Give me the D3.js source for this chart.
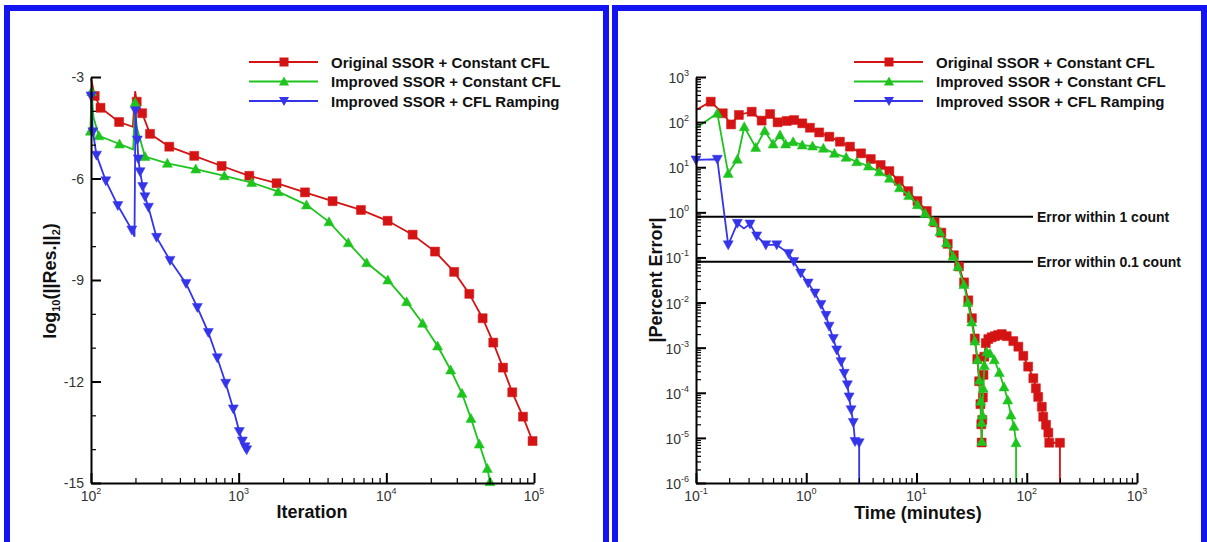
<!DOCTYPE html>
<html>
<head>
<meta charset="utf-8">
<script src="https://cdn.jsdelivr.net/npm/d3@7"></script>
<style>
  body { margin: 0; background: #fff; }
  svg { display: block; font-family: "Liberation Sans", Arial, Helvetica, sans-serif; }
</style>
</head>
<body>
<svg id="fig" width="1207" height="542"></svg>
<script>
// ---------- data ----------
const seriesNames = [
  "Original SSOR + Constant CFL",
  "Improved SSOR + Constant CFL",
  "Improved SSOR + CFL Ramping"
];
const seriesColors = ["#d41414", "#1ec41e", "#3434ea"];
const seriesMarkers = ["square", "triangle", "triangleDown"];

// Residual history: [iteration, log10 residual] (third entry 0 = no symbol)
const residualOriginal = [[100,-3.04,0],[106,-3.56],[116,-3.91],[155,-4.33],[192,-4.47,0],[199,-3.42,0],[204,-3.73],[222,-4.07],[251,-4.68],[339,-5.06],[500,-5.33],[767,-5.63],[1180,-5.92],[1806,-6.14],[2812,-6.41],[4326,-6.67],[6730,-6.93],[10200,-7.25],[15070,-7.66],[21370,-8.16],[28800,-8.76],[36470,-9.41],[44900,-10.13],[52980,-10.85],[61640,-11.59],[71240,-12.32],[84200,-13.04],[97800,-13.76]];
const residualImproved = [[99,-4.6],[101,-3.43],[104,-4.2,0],[113,-4.74],[156,-4.98],[193,-5.14,0],[199,-3.75],[203,-4.45,0],[232,-5.35],[329,-5.55],[512,-5.72],[800,-5.92],[1225,-6.12],[1853,-6.39],[2880,-6.78],[4090,-7.28],[5530,-7.9],[7360,-8.49],[10230,-9.0],[13720,-9.64],[17600,-10.28],[22250,-10.95],[27270,-11.66],[32530,-12.35],[37410,-13.09],[42620,-13.85],[48320,-14.57],[50350,-14.96]];
const residualRamping = [[100,-3.56],[103,-4.62],[109,-5.31],[126,-6.07],[152,-6.8],[189,-7.52],[197,-7.72,0],[200,-4.0],[206,-4.86],[209,-5.42],[215,-5.8],[224,-6.24],[232,-6.54],[245,-6.85],[278,-7.74],[343,-8.42],[440,-9.1],[525,-9.81],[623,-10.55],[716,-11.3],[817,-12.05],[920,-12.81],[1010,-13.48],[1059,-13.76],[1104,-13.93],[1133,-14.02]];

// Percent error history: [time in minutes, |percent error|] (1e-9 = error reached zero)
const errorOriginal = [[0.1,185,0],[0.136,284],[0.175,157],[0.208,89],[0.245,144],[0.32,170],[0.394,108],[0.47,151],[0.55,99],[0.665,106],[0.775,111],[0.92,94],[1.08,75],[1.31,59],[1.62,47.5],[2.02,36.8],[2.49,28.6],[3.14,20.3],[3.85,15.2],[4.73,11.2],[5.67,8.2],[6.9,5.0],[8.4,2.95],[10.2,1.78],[12.4,1.07],[14.6,0.6],[16.8,0.355],[19.2,0.2],[21.8,0.112],[24.3,0.063],[27,0.028],[29.5,0.0112],[31.8,0.0045],[33.8,0.0016],[35.6,5.6e-4],[37,1.8e-4],[38,5.6e-5],[38.7,2e-5],[39,7.9e-6],[39.5,2.5e-5],[40,7.9e-5],[40.5,2.5e-4],[41.2,6.3e-4],[42.5,1.26e-3],[44.8,1.55e-3],[48,1.7e-3],[51.5,1.8e-3],[55,1.9e-3],[59.3,2.0e-3],[65.8,1.8e-3],[75.5,1.4e-3],[83.9,1.05e-3],[93.1,6.6e-4],[103,3.8e-4],[114.7,2.1e-4],[121,1.26e-4],[127,8.1e-5],[137,4.9e-5],[141,2.95e-5],[149.6,1.95e-5],[157,1.3e-5],[160,7.8e-6],[200,7.8e-6],[200,1e-9,0]];
const errorImproved = [[0.1,73,0],[0.156,157],[0.196,7.3],[0.237,15],[0.274,79],[0.348,27.5],[0.42,64.6],[0.5,32.7],[0.578,51.8],[0.65,32.7],[0.76,36.8],[0.92,31],[1.14,29.5],[1.43,26.3],[1.8,20.3],[2.3,16.6],[2.87,13.2],[3.66,10.6],[4.6,7.9],[5.68,5.7],[7.0,3.5],[8.5,2.35],[10.2,1.48],[12.0,0.95],[14.1,0.63],[16.3,0.37],[18.7,0.21],[21.5,0.107],[23.8,0.063],[26.9,0.025],[29.2,0.01],[31.7,0.0037],[33.8,0.0014],[35.8,5.4e-4],[37.2,1.9e-4],[38.2,6.5e-5],[38.8,2.2e-5],[39.1,8.3e-6],[39.6,3.2e-5],[40.3,1.26e-4],[41.3,4e-4],[43.3,8.1e-4],[46.5,7.4e-4],[50.8,5.4e-4],[56.4,2.8e-4],[62.2,1.35e-4],[67.2,6.9e-5],[72,3.2e-5],[76.6,1.8e-5],[80,7.8e-6],[80,1e-9,0]];
const errorRamping = [[0.1,14.5],[0.156,15],[0.196,0.19],[0.237,0.57],[0.272,0.44,0],[0.309,0.55],[0.355,0.3],[0.43,0.19],[0.54,0.19],[0.69,0.123],[0.77,0.081],[0.89,0.045],[1.04,0.027],[1.2,0.0162],[1.36,0.0091],[1.51,0.0052],[1.61,0.003],[1.76,0.0016],[1.89,8.9e-4],[2.07,4.9e-4],[2.21,2.7e-4],[2.36,1.5e-4],[2.45,8.1e-5],[2.55,4.2e-5],[2.67,2.2e-5],[2.77,8.3e-6],[3.02,7.8e-6],[3.02,1e-9,0]];

// Reference error levels
const errorLevels = [0.8, 0.08];
const errorLevelLabels = ["Error within 1 count", "Error within 0.1 count"];

// Tick values
const iterMajor = [1e2, 1e3, 1e4, 1e5];
const iterMajorExp = ["2", "3", "4", "5"];
const resMajor = [-3, -6, -9, -12, -15];
const resMajorLabels = ["-3", "-6", "-9", "-12", "-15"];
const timeMajor = [1e-1, 1e0, 1e1, 1e2, 1e3];
const timeMajorExp = ["-1", "0", "1", "2", "3"];
const errMajor = [1e3, 1e2, 1e1, 1e0, 1e-1, 1e-2, 1e-3, 1e-4, 1e-5, 1e-6];
const errMajorExp = ["3", "2", "1", "0", "-1", "-2", "-3", "-4", "-5", "-6"];

// ---------- drawing ----------
const svg = d3.select("#fig");
const FRAME = "#1414f2";

// panel frames
[[7, 8, 599, 560], [615, 8, 589, 560]].forEach(([x, y, w, h]) => {
  svg.append("rect").attr("x", x).attr("y", y).attr("width", w).attr("height", h)
    .attr("fill", "#fff").attr("stroke", FRAME).attr("stroke-width", 6);
});

function logMinors(lo, hi) {
  const out = [];
  for (let e = Math.round(Math.log10(lo)); e < Math.round(Math.log10(hi)); e++) {
    for (let k = 2; k <= 9; k++) out.push(k * Math.pow(10, e));
  }
  return out;
}

function markerPath(kind) {
  if (kind === "square") return "M-4.5,-4.5H4.5V4.5H-4.5Z";
  if (kind === "triangle") return "M0,-5L5,4L-5,4Z";
  return "M0,5L5,-4L-5,-4Z";
}

function styleAxis(sel, w) {
  sel.selectAll("path.domain").attr("stroke", "#000").attr("stroke-width", 2);
  sel.selectAll(".tick line").attr("stroke", "#000").attr("stroke-width", w);
  sel.selectAll(".tick text").remove();
}

function powerLabel(g, x, y, exp, anchor) {
  const t = g.append("text").attr("x", x).attr("y", y).attr("text-anchor", anchor)
    .attr("font-size", 14).attr("fill", "#333");
  t.append("tspan").text("10");
  t.append("tspan").attr("dy", -7).attr("font-size", 9).text(exp);
  return t;
}

function drawPanel(p) {
  const g = svg.append("g");
  const [x0, x1] = p.x.range();
  const [yb, yt] = p.y.range();

  svg.append("clipPath").attr("id", p.id).append("rect")
    .attr("x", x0 - 4).attr("y", yt - 4).attr("width", x1 - x0 + 8).attr("height", yb - yt + 4);

  // reference error lines
  if (p.levels) {
    p.levels.forEach((v, i) => {
      g.append("line").attr("x1", x0).attr("x2", p.levelEnd)
        .attr("y1", p.y(v)).attr("y2", p.y(v))
        .attr("stroke", "#000").attr("stroke-width", 2);
      g.append("text").attr("x", p.levelEnd + 4).attr("y", p.y(v) + 5)
        .attr("font-size", 14).attr("font-weight", "bold").attr("fill", "#111")
        .text(p.levelLabels[i]);
    });
  }

  // series lines and symbols
  const line = d3.line().x(d => p.x(d[0])).y(d => p.y(d[1]));
  p.series.forEach((s, i) => {
    g.append("path").datum(s).attr("d", line).attr("fill", "none")
      .attr("stroke", seriesColors[i]).attr("stroke-width", 1.8)
      .attr("clip-path", `url(#${p.id})`);
    g.selectAll(null).data(s.filter(d => d.length < 3)).join("path")
      .attr("d", markerPath(seriesMarkers[i]))
      .attr("transform", d => `translate(${p.x(d[0])},${p.y(d[1])})`)
      .attr("fill", seriesColors[i]).attr("stroke", seriesColors[i]).attr("stroke-width", 0.5);
  });

  // axes: major and minor ticks point inward
  const xa = g.append("g").attr("transform", `translate(0,${yb})`)
    .call(d3.axisBottom(p.x).tickValues(p.xMajor).tickSize(-10).tickSizeOuter(0));
  styleAxis(xa, 2);
  const xm = g.append("g").attr("transform", `translate(0,${yb})`)
    .call(d3.axisBottom(p.x).tickValues(p.xMinor).tickSize(-5).tickSizeOuter(0));
  styleAxis(xm, 1.2); xm.select("path.domain").remove();

  const ya = g.append("g").attr("transform", `translate(${x0},0)`)
    .call(d3.axisLeft(p.y).tickValues(p.yMajor).tickSize(-10).tickSizeOuter(0));
  styleAxis(ya, 2);
  const ym = g.append("g").attr("transform", `translate(${x0},0)`)
    .call(d3.axisLeft(p.y).tickValues(p.yMinor).tickSize(-5).tickSizeOuter(0));
  styleAxis(ym, 1.2); ym.select("path.domain").remove();

  // tick labels
  p.xMajor.forEach((v, i) => powerLabel(g, p.x(v), yb + 18, p.xExp[i], "middle"));
  p.yMajor.forEach((v, i) => {
    if (p.yExp) powerLabel(g, x0 - 7, p.y(v) + 6, p.yExp[i], "end");
    else g.append("text").attr("x", x0 - 7).attr("y", p.y(v) + 5).attr("text-anchor", "end")
      .attr("font-size", 14).attr("fill", "#333").text(p.yLabels[i]);
  });

  // axis titles
  g.append("text").attr("x", p.xTitlePos[0]).attr("y", p.xTitlePos[1])
    .attr("text-anchor", "middle").attr("font-size", 18).attr("font-weight", "bold")
    .attr("fill", "#111").text(p.xTitle);
  const yt_ = g.append("text")
    .attr("transform", `translate(${p.yTitlePos[0]},${p.yTitlePos[1]}) rotate(-90)`)
    .attr("text-anchor", "middle").attr("font-size", 18).attr("font-weight", "bold").attr("fill", "#111");
  p.yTitle(yt_);

  // legend
  const lg = g.append("g");
  seriesNames.forEach((name, i) => {
    const ly = p.legend.y + i * 19.5;
    lg.append("line").attr("x1", p.legend.x).attr("x2", p.legend.x + 69)
      .attr("y1", ly).attr("y2", ly).attr("stroke", seriesColors[i]).attr("stroke-width", 2);
    lg.append("path").attr("d", markerPath(seriesMarkers[i]))
      .attr("transform", `translate(${p.legend.x + 35},${ly})`).attr("fill", seriesColors[i]);
    lg.append("text").attr("x", p.legend.x + 82).attr("y", ly + 5.5)
      .attr("font-size", 15).attr("font-weight", "bold").attr("fill", "#111").text(name);
  });
}

const resMinor = d3.range(-15, -2).filter(v => v % 3 !== 0);

drawPanel({
  id: "clip-res",
  x: d3.scaleLog().domain([1e2, 1e5]).range([91, 534]),
  y: d3.scaleLinear().domain([-15, -3]).range([483, 77]),
  series: [residualOriginal, residualImproved, residualRamping],
  xMajor: iterMajor, xExp: iterMajorExp, xMinor: logMinors(1e2, 1e5),
  yMajor: resMajor, yLabels: resMajorLabels, yMinor: resMinor,
  xTitle: "Iteration", xTitlePos: [312, 518],
  yTitlePos: [56, 281],
  yTitle: t => {
    t.append("tspan").text("log");
    t.append("tspan").attr("font-size", 11).attr("dy", 4).text("10");
    t.append("tspan").attr("dy", -4).text("(||Res.||");
    t.append("tspan").attr("font-size", 11).attr("dy", 4).text("2");
    t.append("tspan").attr("dy", -4).text(")");
  },
  legend: { x: 249, y: 62 }
});

drawPanel({
  id: "clip-err",
  x: d3.scaleLog().domain([1e-1, 1e3]).range([696, 1137]),
  y: d3.scaleLog().domain([1e-6, 1e3]).range([483, 77]),
  series: [errorOriginal, errorImproved, errorRamping],
  xMajor: timeMajor, xExp: timeMajorExp, xMinor: logMinors(1e-1, 1e3),
  yMajor: errMajor, yExp: errMajorExp, yMinor: logMinors(1e-6, 1e3),
  levels: errorLevels, levelLabels: errorLevelLabels, levelEnd: 1033,
  xTitle: "Time (minutes)", xTitlePos: [918, 519],
  yTitlePos: [662, 280],
  yTitle: t => t.text("|Percent Error|"),
  legend: { x: 854, y: 62 }
});
</script>
</body>
</html>
